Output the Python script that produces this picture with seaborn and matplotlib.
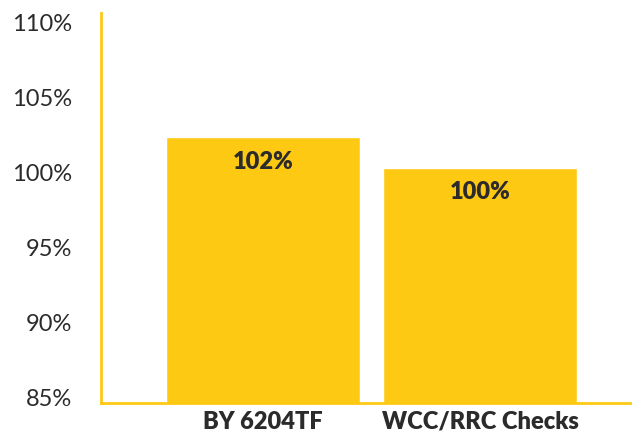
import pandas as pd
import matplotlib.pyplot as plt
import seaborn as sns

# chart data
categories = ["BY 6204TF", "WCC/RRC Checks"]
values = [102.35, 100.3]
bar_labels = ["102%", "100%"]
y_ticks = [85, 90, 95, 100, 105, 110]

YELLOW = "#FDC913"
TEXT = "#2b2b2b"

sns.set_style("white")
plt.rcParams['font.family'] = ['Lato', 'DejaVu Sans']

df = pd.DataFrame({"category": categories, "value": values})

fig = plt.figure(figsize=(6.32, 4.32), dpi=100)
ax = fig.add_axes([0.16, 0.068, 0.84, 0.902])

sns.barplot(data=df, x="category", y="value", color=YELLOW, saturation=1,
            width=0.894, ax=ax)

ax.set_ylim(84.63, 110.67)
ax.set_xlim(-0.747, 1.70)
ax.set_yticks(y_ticks)
ax.set_yticklabels([f"{t}%" for t in y_ticks])
ax.set_xlabel("")
ax.set_ylabel("")

ax.tick_params(axis="y", length=0, pad=21, labelsize=17, labelcolor=TEXT)
ax.tick_params(axis="x", length=0, pad=6, labelsize=17, labelcolor=TEXT)
for lbl in ax.get_xticklabels():
    lbl.set_fontweight("heavy")

for side in ["top", "right"]:
    ax.spines[side].set_visible(False)
for side in ["left", "bottom"]:
    ax.spines[side].set_color(YELLOW)
    ax.spines[side].set_linewidth(2)

# value labels inside the bars
for i, (v, txt) in enumerate(zip(values, bar_labels)):
    ax.annotate(txt, (i, v), xytext=(0, -17.5), textcoords="offset points",
                ha="center", va="center", fontsize=17, fontweight="heavy",
                color=TEXT)

fig.savefig("out.png", dpi=100)
